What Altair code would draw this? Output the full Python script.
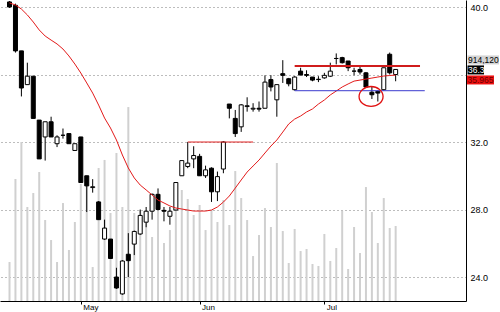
import altair as alt
import pandas as pd

# ---- data ----
idx = list(range(66))
opens = [40.3, 40.1, 37.4, 35.4, 35.9, 33.3, 32.3, 33.2, 31.9, 32.4,
         32.5, 31.5, 32.3, 30.0, 29.3, 28.45, 26.25, 26.25, 24.0, 23.0,
         25.35, 25.95, 26.55, 27.25, 27.9, 28.9, 27.95, 27.6, 27.97, 30.0,
         30.55, 31.0, 31.15, 30.0, 30.45, 29.05, 30.4, 34.25, 33.4, 32.9,
         34.1, 33.95, 34.0, 34.0, 35.7, 34.5, 36.05, 35.75, 35.1, 36.2,
         36.0, 35.85, 35.7, 35.8, 35.9, 36.95, 37.0, 36.8, 36.2, 36.3,
         36.1, 34.95, 35.0, 35.1, 37.2, 36.0]
closes = [40.0, 37.4, 35.2, 35.9, 33.4, 31.0, 33.2, 32.3, 32.3, 32.4,
          31.9, 31.9, 29.6, 29.4, 29.35, 27.4, 26.9, 25.1, 23.35, 24.95,
          24.97, 26.7, 27.65, 27.9, 28.9, 28.0, 27.9, 27.9, 29.6, 30.9,
          30.75, 31.2, 30.0, 30.35, 29.05, 29.95, 32.0, 34.0, 32.5, 34.2,
          34.15, 34.0, 33.95, 35.55, 35.26, 35.4, 35.95, 35.45, 35.85, 35.97,
          35.95, 35.67, 35.72, 35.95, 36.2, 36.95, 36.7, 36.4, 36.2, 36.15,
          35.26, 34.8, 34.9, 36.4, 36.1, 36.3]
highs = [40.35, 40.2, 37.4, 36.7, 35.9, 33.3, 33.2, 33.5, 32.4, 32.8,
         32.5, 31.9, 32.3, 30.0, 29.8, 28.5, 27.4, 26.25, 24.55, 25.0,
         26.6, 26.75, 28.0, 28.15, 28.95, 29.25, 28.15, 28.15, 29.6, 30.9,
         32.0, 31.75, 31.3, 30.6, 30.5, 30.25, 32.05, 34.25, 33.9, 34.25,
         34.65, 34.3, 34.4, 35.95, 35.96, 35.4, 36.85, 35.8, 35.9, 36.4,
         36.25, 35.85, 35.9, 36.1, 36.7, 37.25, 37.05, 36.8, 36.4, 36.5,
         36.15, 35.3, 35.05, 36.4, 37.3, 36.3]
lows = [39.95, 37.3, 34.7, 35.4, 33.4, 31.0, 30.9, 32.3, 31.7, 32.2,
        31.9, 31.5, 29.6, 27.85, 29.0, 27.4, 26.2, 25.1, 23.3, 22.95,
        24.0, 25.3, 26.5, 26.95, 27.4, 27.95, 27.3, 27.1, 27.95, 30.0,
        30.45, 30.45, 30.0, 29.87, 28.45, 28.5, 30.15, 33.4, 32.3, 32.6,
        33.8, 33.8, 33.8, 34.0, 35.0, 33.5, 35.5, 35.3, 35.05, 35.95,
        35.85, 35.6, 35.55, 35.75, 35.85, 36.6, 36.65, 36.2, 35.95, 36.0,
        35.2, 34.55, 34.4, 35.05, 36.0, 35.6]
volumes = [475000, 1487000, 1938000, 1146000, 1316000, 1572000, 987000, 743000, 475000, 1194000,
           622000, 963000, 1426000, 1414000, 414000, 1621000, 1719000, 1073000, 1804000, 1146000,
           2364000, 1073000, 1109000, 987000, 780000, 1231000, 707000, 865000, 1231000, 1353000,
           1243000, 1048000, 1170000, 865000, 1109000, 963000, 1231000, 926000, 1584000, 1255000,
           987000, 548000, 804000, 1133000, 902000, 1682000, 853000, 463000, 878000, 609000,
           634000, 451000, 427000, 817000, 488000, 646000, 1097000, 390000, 902000, 585000,
           1389000, 1085000, 707000, 1255000, 890000, 914120]
ma20 = [40.24, 40.12, 39.88, 39.53, 39.11, 38.64, 38.28, 38.04, 37.81, 37.51,
        37.10, 36.62, 36.09, 35.50, 34.90, 34.19, 33.42, 32.83, 32.12, 31.23,
        30.46, 29.87, 29.45, 29.16, 28.86, 28.56, 28.39, 28.21, 28.09, 28.03,
        27.97, 27.91, 27.91, 27.91, 27.97, 28.15, 28.44, 28.80, 29.27, 29.75,
        30.22, 30.58, 30.93, 31.35, 31.76, 32.12, 32.59, 33.07, 33.36, 33.54,
        33.78, 33.96, 34.25, 34.49, 34.79, 35.02, 35.26, 35.44, 35.61, 35.67,
        35.73, 35.79, 35.85, 35.91, 35.94, 35.965]

month_ticks = [12, 32, 53]
month_labels = ["May", "Jun", "Jul"]
price_ticks = [24, 28, 32, 36, 40]

# annotation lines: (start index, end index, price level)
support_start, support_end, support_level = 30, 41, 32.0
resist_start, resist_end, resist_level = 48, 69.1, 36.5
blue_start, blue_end, blue_level = 48, 69.9, 35.04
circle_i, circle_price = 60.86, 34.70

last_volume_text = "914,120"
last_close_text = "36.3"
last_ma_text = "35.965"
last_close = 36.3

df = pd.DataFrame({"i": idx, "open": opens, "close": closes, "high": highs,
                   "low": lows, "volume": volumes, "ma": ma20})
df["dir"] = ["up" if c >= o else "down" for o, c in zip(opens, closes)]

FONT = "Liberation Sans"
W, H = 466, 301

x_scale = alt.Scale(domain=[-0.76, 76.0], nice=False, zero=False)
p_scale = alt.Scale(domain=[22.58, 40.415], nice=False, zero=False)
v_scale = alt.Scale(domain=[0, 3668600], nice=False)

label_expr = " : ".join(
    f"datum.value == {t} ? '{l}'" for t, l in zip(month_ticks, month_labels)) + " : ''"
x_axis = alt.Axis(values=month_ticks, labelExpr=label_expr, grid=False, title=None,
                  domainColor="black", tickColor="black", tickSize=3, labelAlign="left",
                  labelOffset=2, labelPadding=-1, labelFontSize=8, labelFont=FONT,
                  labelColor="black", labelFlush=False, labelOverlap=False)
p_axis = alt.Axis(values=price_ticks, orient="right", title=None,
                  labelExpr="datum.value == 36 ? '' : format(datum.value, '.1f')",
                  grid=True, gridColor="#7a7a7a", gridDash=[1, 3], gridWidth=1,
                  ticks=False, domainColor="black", labelPadding=4, labelFontSize=9,
                  labelFont=FONT, labelColor="black")

X = alt.X("i:Q", scale=x_scale, axis=x_axis)
base = alt.Chart(df)

vol = base.mark_bar(size=2, color="#d0d0d0").encode(
    x=X, y=alt.Y("volume:Q", scale=v_scale, axis=None))

wicks = base.mark_rule(color="black", strokeWidth=1).encode(
    x=X, y=alt.Y("low:Q", scale=p_scale, axis=p_axis), y2="high:Q")

bodies = base.mark_bar(size=4, stroke="black", strokeWidth=1).encode(
    x=X, y=alt.Y("open:Q", scale=p_scale, axis=p_axis), y2="close:Q",
    fill=alt.Fill("dir:N", scale=alt.Scale(domain=["up", "down"], range=["white", "black"]),
                  legend=None))

ma_line = base.mark_line(color="#e31a1a", strokeWidth=1).encode(
    x=X, y=alt.Y("ma:Q", scale=p_scale, axis=p_axis))

def hline(s, e, lvl, color, width):
    d = pd.DataFrame({"s": [s], "e": [e], "lvl": [lvl]})
    return alt.Chart(d).mark_rule(color=color, strokeWidth=width).encode(
        x=alt.X("s:Q", scale=x_scale, axis=x_axis), x2="e:Q",
        y=alt.Y("lvl:Q", scale=p_scale, axis=p_axis))

sup = hline(support_start, support_end, support_level, "#e02020", 1)
res = hline(resist_start, resist_end, resist_level, "#d01c1c", 2)
blu = hline(blue_start, blue_end, blue_level, "#3a3acf", 1)

ell_df = pd.DataFrame({"i": [circle_i], "p": [circle_price]})
ellipse = alt.Chart(ell_df).mark_point(
    shape="M-1,0 A1,0.83 0 1,1 1,0 A1,0.83 0 1,1 -1,0 Z",
    size=576, filled=False, color="#e01010", strokeWidth=1.3, opacity=1).encode(
    x=alt.X("i:Q", scale=x_scale, axis=x_axis),
    y=alt.Y("p:Q", scale=p_scale, axis=p_axis))

lab_df = pd.DataFrame({"p": [last_close]})
def tag(text, x1, x2, dy, bg, fg):
    c = alt.Chart(lab_df)
    box = c.mark_rule(color=bg, strokeWidth=9, strokeCap="butt", yOffset=dy).encode(
        x=alt.value(x1), x2=alt.value(x2),
        y=alt.Y("p:Q", scale=p_scale, axis=p_axis))
    txt = c.mark_text(text=text, align="left", baseline="middle", font=FONT,
                      fontSize=8.5, color=fg, yOffset=dy + 0.5).encode(
        x=alt.value(x1 + 0.5), y=alt.Y("p:Q", scale=p_scale, axis=p_axis))
    return box + txt

tags = (tag(last_volume_text, 467.5, 499, -9.5, "#d4d4d4", "black")
        + tag(last_close_text, 467.5, 484, 0.5, "black", "white")
        + tag(last_ma_text, 467, 494, 10.5, "#ee1111", "#6a0000"))

price = alt.layer(wicks, bodies, ma_line, sup, res, blu, ellipse, tags)

chart = alt.layer(vol, price).resolve_scale(y="independent").properties(
    width=W, height=H,
    autosize=alt.AutoSizeParams(type="none"),
    padding={"left": 0, "top": 0, "right": 34, "bottom": 11},
    background="white",
).configure_view(stroke=None)

chart.save("out.html", embed_options={"renderer": "svg", "actions": False})
